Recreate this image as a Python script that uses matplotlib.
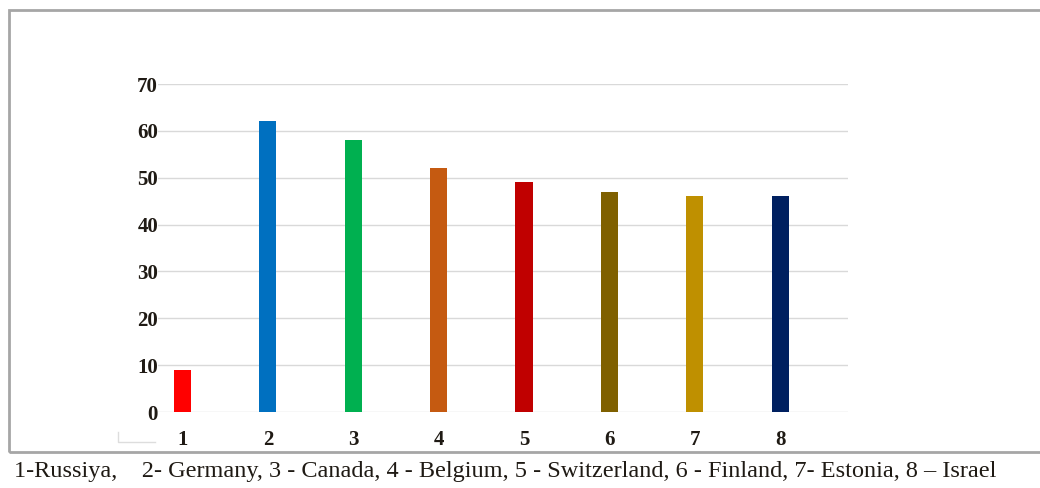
import matplotlib.pyplot as plt
from matplotlib.patches import Rectangle
from matplotlib.lines import Line2D

# Data
categories = ['1', '2', '3', '4', '5', '6', '7', '8']
values = [9, 62, 58, 52, 49, 47, 46, 46]
colors = ['#FF0000', '#0070C0', '#00B050', '#C55A11',
          '#C00000', '#7F6000', '#BF9000', '#002060']
y_ticks = [0, 10, 20, 30, 40, 50, 60, 70]
caption = ('1-Russiya,    2- Germany, 3 - Canada, 4 - Belgium, 5 - Switzerland, '
           '6 - Finland, 7- Estonia, 8 \u2013 Israel')

W, H = 1040, 488
fig = plt.figure(figsize=(W / 100, H / 100), dpi=100)

# axes placed in pixel terms
ax = fig.add_axes([158 / W, (H - 412) / H, (848 - 158) / W, 328 / H])
x = list(range(1, len(categories) + 1))
ax.bar(x, values, width=0.2, color=colors, zorder=3)

ax.set_xlim(0.713, 8.795)
ax.set_ylim(0, 70)
ax.set_yticks(y_ticks)
ax.set_xticks(x)
ax.set_xticklabels(categories)
ax.yaxis.grid(True, color='#D9D9D9', linewidth=1, zorder=0)
ax.set_axisbelow(True)
for s in ax.spines.values():
    s.set_visible(False)
ax.tick_params(length=0)
ax.tick_params(axis='y', pad=0)
ax.tick_params(axis='x', pad=13)
for lab in ax.get_xticklabels() + ax.get_yticklabels():
    lab.set_fontfamily('Liberation Serif')
    lab.set_fontweight('bold')
    lab.set_fontsize(15)
    lab.set_color('#1f1a14')

# outer frame of the chart box
fig.patches.append(Rectangle((9 / W, (H - 452) / H), 1.0, (452 - 10) / H,
                             transform=fig.transFigure, fill=False,
                             edgecolor='#A6A6A6', linewidth=2))

# small leftover corner marks
fig.lines.append(Line2D([118 / W, 118 / W, 155 / W],
                        [(H - 432) / H, (H - 442) / H, (H - 442) / H],
                        transform=fig.transFigure, color='#DDDDDD', linewidth=1))

fig.text(14 / W, (H - 471) / H, caption, fontfamily='Liberation Serif',
         fontsize=17.5, color='#1f1a14', va='center', ha='left')

fig.savefig('out.png', dpi=100)
